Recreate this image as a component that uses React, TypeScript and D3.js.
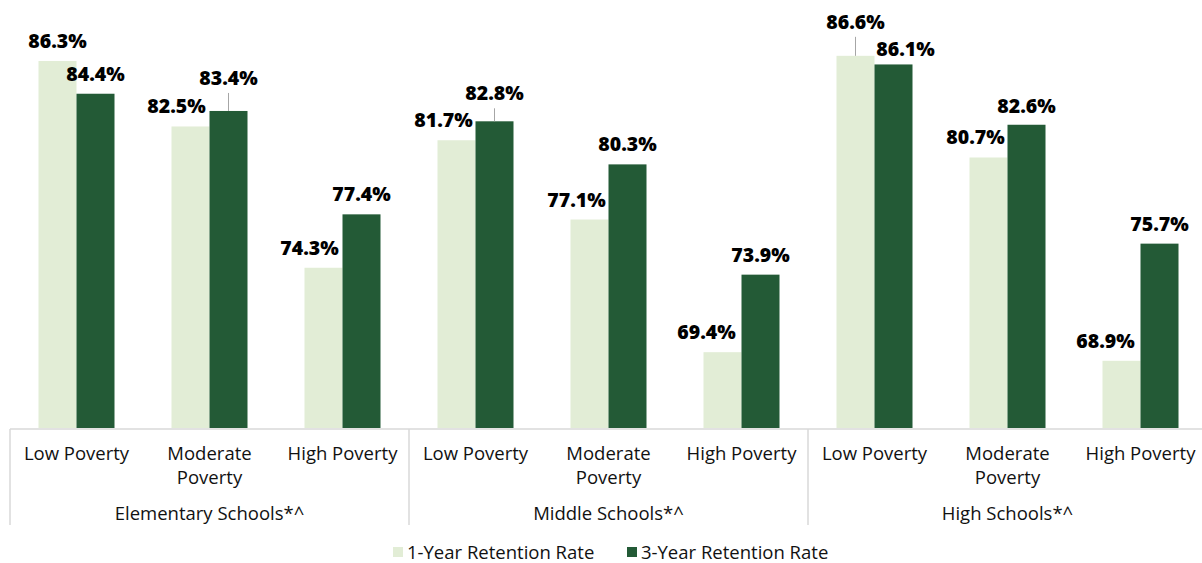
import React from "react";
import * as d3 from "d3";

const groups = ["Elementary Schools*^", "Middle Schools*^", "High Schools*^"];
const categories = [["Low Poverty"], ["Moderate", "Poverty"], ["High Poverty"]];
const seriesNames = ["1-Year Retention Rate", "3-Year Retention Rate"];
const oneYear = [
  [86.3, 82.5, 74.3],
  [81.7, 77.1, 69.4],
  [86.6, 80.7, 68.9],
];
const threeYear = [
  [84.4, 83.4, 77.4],
  [82.8, 80.3, 73.9],
  [86.1, 82.6, 75.7],
];
// label nudges [dx, dy, leader] per group/category/series (layout only)
const labelNudge = [
  [[[0, 0, 0], [0, 0, 0]], [[-14, 0, 0], [0, -13, 1]], [[-14, 0, 0], [0, 0, 0]]],
  [[[-13, 0, 0], [0, -8, 1]], [[-13, 0, 0], [0, 0, 0]], [[-16, 0, 0], [0, 0, 0]]],
  [[[0, -14, 1], [12, 5, 0]], [[-13, 0, 0], [0, 1, 0]], [[-16, 0, 0], [0, 0, 0]]],
];

const W = 1202;
const H = 563;
const COLORS = ["#E2EDD6", "#235A36"];
const FONT = "'Open Sans', 'Liberation Sans', sans-serif";

export default function App() {
  const plotLeft = 10;
  const groupW = 399;
  const baseY = 428;
  const x0 = d3
    .scaleBand<number>()
    .domain(groups.map((_, i) => i))
    .range([plotLeft, plotLeft + groupW * groups.length])
    .padding(0);
  const x1 = d3
    .scaleBand<number>()
    .domain(categories.map((_, i) => i))
    .range([0, x0.bandwidth()])
    .padding(0);
  const x2 = d3
    .scaleBand<number>()
    .domain([0, 1])
    .range([0, x1.bandwidth()])
    .paddingInner(0)
    .paddingOuter(0.75);
  const y = d3.scaleLinear().domain([65, 87]).range([baseY, baseY - 22 * 17.23]);

  const series = [oneYear, threeYear];
  const bars: React.ReactNode[] = [];
  const labels: React.ReactNode[] = [];

  groups.forEach((_, g) => {
    categories.forEach((_, c) => {
      series.forEach((s, k) => {
        const v = s[g][c];
        const bx = (x0(g) ?? 0) + (x1(c) ?? 0) + (x2(k) ?? 0);
        const bw = x2.bandwidth();
        const top = y(v);
        bars.push(
          <rect key={`b${g}${c}${k}`} x={bx} y={top} width={bw} height={baseY - top} fill={COLORS[k]} />
        );
        const [dx, dy, leader] = labelNudge[g][c][k];
        const cx = bx + bw / 2 + dx;
        const cy = top - 20 + dy;
        labels.push(
          <text
            key={`l${g}${c}${k}`}
            x={cx}
            y={cy + 7}
            textAnchor="middle"
            fontFamily={FONT}
            fontWeight={800}
            fontSize={19.5}
            fill="#000"
          >
            {v.toFixed(1)}%
          </text>
        );
        if (leader) {
          labels.push(
            <line
              key={`ld${g}${c}${k}`}
              x1={bx + bw / 2}
              x2={bx + bw / 2}
              y1={cy + 15}
              y2={top}
              stroke="#a6a6a6"
              strokeWidth={1}
            />
          );
        }
      });
    });
  });

  const axisEls: React.ReactNode[] = [];
  axisEls.push(
    <line key="base" x1={plotLeft} x2={W} y1={baseY + 1} y2={baseY + 1} stroke="#d9d9d9" strokeWidth={1.5} />
  );
  groups.forEach((gname, g) => {
    const gx = x0(g) ?? 0;
    axisEls.push(
      <line key={`v${g}`} x1={gx} x2={gx} y1={baseY + 1} y2={525} stroke="#d9d9d9" strokeWidth={1.5} />
    );
    categories.forEach((lines, c) => {
      const cx = gx + (x1(c) ?? 0) + x1.bandwidth() / 2;
      axisEls.push(
        <text
          key={`c${g}${c}`}
          x={cx}
          y={460}
          textAnchor="middle"
          fontFamily={FONT}
          fontSize={18.5}
          fill="#111"
        >
          {lines.map((ln, i) => (
            <tspan key={i} x={cx} dy={i === 0 ? 0 : 24}>
              {ln}
            </tspan>
          ))}
        </text>
      );
    });
    axisEls.push(
      <text
        key={`g${g}`}
        x={gx + x0.bandwidth() / 2}
        y={520}
        textAnchor="middle"
        fontFamily={FONT}
        fontSize={18.5}
        fill="#111"
      >
        {gname}
      </text>
    );
  });

  const legendItems = [
    { sx: 393, tx: 407 },
    { sx: 627, tx: 641 },
  ];

  return (
    <svg
      width={W}
      height={H}
      style={{ position: "absolute", left: 0, top: 0, background: "#fff" }}
    >
      {bars}
      {axisEls}
      {labels}
      {seriesNames.map((name, k) => (
        <g key={`lg${k}`}>
          <rect x={legendItems[k].sx} y={547} width={10} height={10} fill={COLORS[k]} />
          <text x={legendItems[k].tx} y={559} fontFamily={FONT} fontSize={18.5} fill="#111">
            {name}
          </text>
        </g>
      ))}
    </svg>
  );
}
